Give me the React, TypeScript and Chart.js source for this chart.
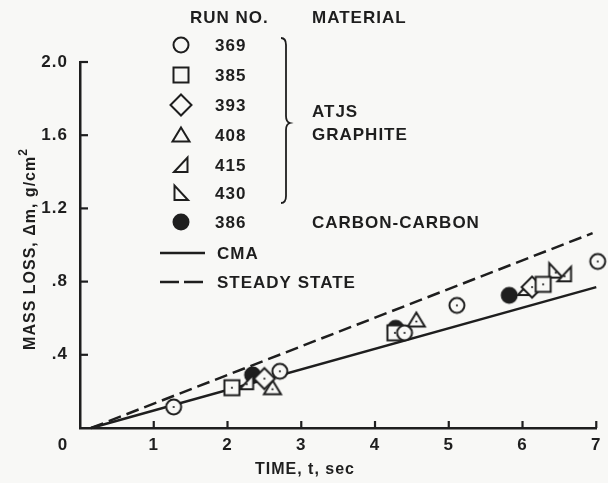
import React, { useEffect, useRef } from 'react';
import { Chart, registerables } from 'chart.js';

Chart.register(...registerables);

// ---- data ----
const xTickValues = [0, 1, 2, 3, 4, 5, 6, 7];
const xTickLabels = ['', '1', '2', '3', '4', '5', '6', '7'];
const yTickValues = [0, 0.4, 0.8, 1.2, 1.6, 2.0];
const yTickLabels = ['', '.4', '.8', '1.2', '1.6', '2.0'];

const run369 = [
  { x: 1.27, y: 0.115 },
  { x: 2.71, y: 0.31 },
  { x: 4.4, y: 0.52 },
  { x: 5.11, y: 0.67 },
  { x: 7.02, y: 0.91 },
];
const run385 = [
  { x: 2.06, y: 0.22 },
  { x: 4.27, y: 0.52 },
  { x: 6.28, y: 0.785 },
];
const run393 = [
  { x: 2.5, y: 0.27 },
  { x: 6.13, y: 0.77 },
];
const run408 = [
  { x: 2.61, y: 0.22 },
  { x: 4.56, y: 0.59 },
];
const run415 = [
  { x: 2.26, y: 0.25 },
  { x: 6.03, y: 0.765 },
  { x: 6.57, y: 0.84 },
];
const run430 = [{ x: 6.45, y: 0.86 }];
const run386 = [
  { x: 2.34, y: 0.29 },
  { x: 4.28, y: 0.545 },
  { x: 5.82, y: 0.725 },
];
const cmaLine = [
  { x: 0.15, y: 0 },
  { x: 7.0, y: 0.77 },
];
const steadyLine = [
  { x: 0.15, y: 0 },
  { x: 6.95, y: 1.065 },
];

const legendRuns = ['369', '385', '393', '408', '415', '430', '386'];
const legendShapes = ['circle', 'square', 'diamond', 'tri', 'triR', 'triL', 'filled'];
const materialGraphite = ['ATJS', 'GRAPHITE'];
const materialCarbon = 'CARBON-CARBON';
const lineLabels = ['CMA', 'STEADY STATE'];
const headerRun = 'RUN NO.';
const headerMaterial = 'MATERIAL';
const xTitle = 'TIME, t, sec';
const yTitle = 'MASS LOSS, \u0394m, g/cm';
const yTitleSup = '2';
const cornerLabel = '0';

// ---- style ----
const INK = '#1e1e1e';
const BG = '#f8f8f6';
const FONT = '"Liberation Sans", Arial, Helvetica, sans-serif';

function makeMarker(kind: string, dot: boolean): HTMLCanvasElement {
  const S = 26;
  const c = document.createElement('canvas');
  c.width = S;
  c.height = S;
  const g = c.getContext('2d') as CanvasRenderingContext2D;
  const m = S / 2;
  g.lineWidth = 2;
  g.strokeStyle = INK;
  g.fillStyle = BG;
  g.lineJoin = 'miter';
  g.beginPath();
  switch (kind) {
    case 'circle':
      g.arc(m, m, 7.5, 0, Math.PI * 2);
      break;
    case 'square':
      g.rect(m - 7.5, m - 7.5, 15, 15);
      break;
    case 'diamond':
      g.moveTo(m, m - 10.5);
      g.lineTo(m + 10.5, m);
      g.lineTo(m, m + 10.5);
      g.lineTo(m - 10.5, m);
      g.closePath();
      break;
    case 'tri':
      g.moveTo(m, m - 7.5);
      g.lineTo(m + 8.5, m + 6.5);
      g.lineTo(m - 8.5, m + 6.5);
      g.closePath();
      break;
    case 'triR':
      g.moveTo(m + 6.5, m - 7.5);
      g.lineTo(m + 6.5, m + 7);
      g.lineTo(m - 7, m + 7);
      g.closePath();
      break;
    case 'triL':
      g.moveTo(m - 6.5, m - 7.5);
      g.lineTo(m - 6.5, m + 7);
      g.lineTo(m + 7, m + 7);
      g.closePath();
      break;
    case 'filled':
      g.arc(m, m, 8.5, 0, Math.PI * 2);
      g.fillStyle = INK;
      break;
  }
  g.fill();
  if (kind !== 'filled') g.stroke();
  if (dot && kind !== 'filled') {
    g.beginPath();
    g.fillStyle = INK;
    g.arc(m, kind === 'tri' ? m + 1.5 : kind === 'triR' || kind === 'triL' ? m + 2 : m, 1.1, 0, Math.PI * 2);
    g.fill();
  }
  return c;
}

export default function App() {
  const ref = useRef<HTMLCanvasElement | null>(null);

  useEffect(() => {
    const canvas = ref.current;
    if (!canvas) return;
    document.body.style.margin = '0';
    document.body.style.background = BG;

    const markers: Record<string, HTMLCanvasElement> = {};
    const legendMarkers: Record<string, HTMLCanvasElement> = {};
    legendShapes.forEach((s) => {
      markers[s] = makeMarker(s, true);
      legendMarkers[s] = makeMarker(s, false);
    });

    const bgPlugin = {
      id: 'bg',
      beforeDraw(chart: any) {
        const ctx = chart.ctx as CanvasRenderingContext2D;
        ctx.save();
        ctx.fillStyle = BG;
        ctx.fillRect(0, 0, chart.width, chart.height);
        ctx.restore();
        (ctx as any).letterSpacing = '1px';
      },
    };

    const decoPlugin = {
      id: 'deco',
      afterDatasetsDraw(chart: any) {
        const ctx = chart.ctx as CanvasRenderingContext2D;
        const { left, bottom } = chart.chartArea;
        const xs = chart.scales.x;
        const ys = chart.scales.y;
        ctx.save();
        ctx.strokeStyle = INK;
        ctx.lineWidth = 2.2;
        xs.ticks.forEach((t: any) => {
          if (t.value === 0) return;
          const px = xs.getPixelForValue(t.value);
          ctx.beginPath();
          ctx.moveTo(px, bottom);
          ctx.lineTo(px, bottom - 7);
          ctx.stroke();
        });
        ys.ticks.forEach((t: any) => {
          if (t.value === 0) return;
          const py = ys.getPixelForValue(t.value);
          ctx.beginPath();
          ctx.moveTo(left, py);
          ctx.lineTo(left + 8, py);
          ctx.stroke();
        });
        ctx.restore();
      },
      afterDraw(chart: any) {
        const ctx = chart.ctx as CanvasRenderingContext2D;
        ctx.save();
        (ctx as any).letterSpacing = '1px';
        ctx.fillStyle = INK;
        ctx.strokeStyle = INK;
        ctx.textBaseline = 'middle';

        // corner "0"
        ctx.font = `bold 17px ${FONT}`;
        ctx.textAlign = 'center';
        ctx.fillText(cornerLabel, 63, 445);

        // x title
        ctx.font = `bold 16px ${FONT}`;
        ctx.fillText(xTitle, 305, 470);

        // y title (rotated) with superscript
        ctx.save();
        ctx.translate(31, 249);
        ctx.rotate(-Math.PI / 2);
        ctx.font = `bold 16px ${FONT}`;
        const w1 = ctx.measureText(yTitle).width;
        ctx.font = `bold 12px ${FONT}`;
        const w2 = ctx.measureText(yTitleSup).width;
        const start = -(w1 + w2) / 2;
        ctx.textAlign = 'left';
        ctx.font = `bold 16px ${FONT}`;
        ctx.fillText(yTitle, start, 0);
        ctx.font = `bold 12px ${FONT}`;
        ctx.fillText(yTitleSup, start + w1, -7);
        ctx.restore();

        // legend header
        ctx.font = `bold 17px ${FONT}`;
        ctx.textAlign = 'left';
        ctx.fillText(headerRun, 190, 18);
        ctx.fillText(headerMaterial, 312, 18);

        // legend rows
        const rowY = [45, 75, 105, 135, 165, 193, 222];
        legendRuns.forEach((r, i) => {
          const mk = legendMarkers[legendShapes[i]];
          ctx.drawImage(mk, 181 - mk.width / 2, rowY[i] - mk.height / 2);
          ctx.fillText(r, 215, rowY[i] + 1);
        });

        // brace
        ctx.lineWidth = 1.8;
        ctx.beginPath();
        ctx.moveTo(281, 38);
        ctx.quadraticCurveTo(286, 38, 286, 45);
        ctx.lineTo(286, 116);
        ctx.quadraticCurveTo(286, 122, 290, 123);
        ctx.quadraticCurveTo(286, 124, 286, 130);
        ctx.lineTo(286, 196);
        ctx.quadraticCurveTo(286, 203, 281, 203);
        ctx.stroke();

        ctx.fillText(materialGraphite[0], 312, 112);
        ctx.fillText(materialGraphite[1], 312, 135);
        ctx.fillText(materialCarbon, 312, 223);

        // line legend
        ctx.lineWidth = 2.5;
        ctx.beginPath();
        ctx.moveTo(160, 253);
        ctx.lineTo(205, 253);
        ctx.stroke();
        ctx.setLineDash([19, 5]);
        ctx.beginPath();
        ctx.moveTo(160, 282);
        ctx.lineTo(205, 282);
        ctx.stroke();
        ctx.setLineDash([]);
        ctx.fillText(lineLabels[0], 217, 254);
        ctx.fillText(lineLabels[1], 217, 283);
        ctx.restore();
      },
    };

    const pointDs = (data: any[], shape: string) => ({
      type: 'scatter' as const,
      data,
      pointStyle: markers[shape],
      pointRadius: 8,
      showLine: false,
      clip: false as any,
    });

    const chart = new Chart(canvas, {
      type: 'scatter',
      data: {
        datasets: [
          pointDs(run369, 'circle'),
          pointDs(run385, 'square'),
          pointDs(run393, 'diamond'),
          pointDs(run408, 'tri'),
          pointDs(run415, 'triR'),
          pointDs(run430, 'triL'),
          pointDs(run386, 'filled'),
          {
            type: 'scatter',
            data: cmaLine,
            showLine: true,
            borderColor: INK,
            borderWidth: 2.5,
            pointRadius: 0,
            clip: false as any,
          },
          {
            type: 'scatter',
            data: steadyLine,
            showLine: true,
            borderColor: INK,
            borderWidth: 2.5,
            borderDash: [13, 6],
            pointRadius: 0,
            clip: false as any,
          },
        ] as any,
      },
      options: {
        animation: false,
        responsive: false,
        maintainAspectRatio: false,
        devicePixelRatio: 1,
        events: [],
        layout: { padding: { top: 62, right: 11, left: 0, bottom: 0 } },
        plugins: { legend: { display: false }, tooltip: { enabled: false } },
        scales: {
          x: {
            type: 'linear',
            min: 0,
            max: 7,
            afterBuildTicks: (s: any) => {
              s.ticks = xTickValues.map((v) => ({ value: v }));
            },
            afterFit: (s: any) => {
              s.height = 55;
            },
            grid: { display: false, drawTicks: false },
            border: { display: true, color: INK, width: 2.5 },
            ticks: {
              callback: (_v: any, i: number) => xTickLabels[i],
              font: { family: FONT, size: 17, weight: 'bold' },
              color: INK,
              padding: 7,
              maxRotation: 0,
              autoSkip: false,
            },
          },
          y: {
            type: 'linear',
            min: 0,
            max: 2.0,
            afterBuildTicks: (s: any) => {
              s.ticks = yTickValues.map((v) => ({ value: v }));
            },
            afterFit: (s: any) => {
              s.width = 80;
            },
            grid: { display: false, drawTicks: false },
            border: { display: true, color: INK, width: 2.5 },
            ticks: {
              callback: (_v: any, i: number) => yTickLabels[i],
              font: { family: FONT, size: 17, weight: 'bold' },
              color: INK,
              padding: 12,
              autoSkip: false,
            },
          },
        },
      } as any,
      plugins: [bgPlugin, decoPlugin],
    });

    return () => {
      chart.destroy();
    };
  }, []);

  return (
    <div style={{ position: 'fixed', left: 0, top: 0, width: 608, height: 483, background: BG }}>
      <canvas ref={ref} width={608} height={483} style={{ display: 'block', width: 608, height: 483 }} />
    </div>
  );
}
